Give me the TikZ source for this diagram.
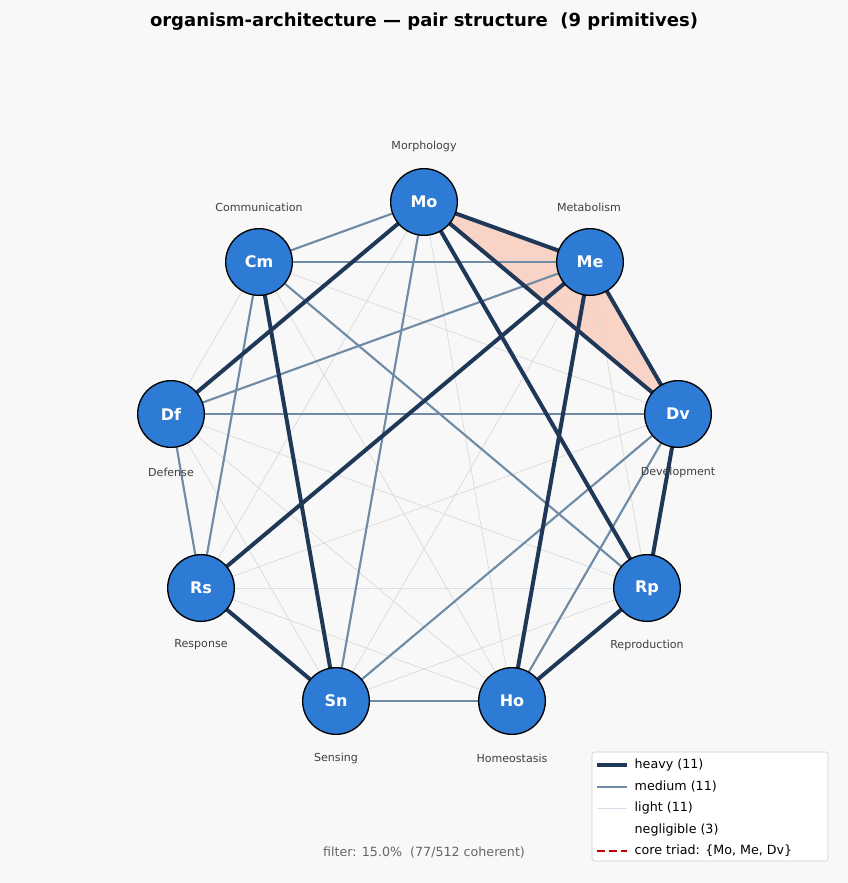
\documentclass[tikz,border=0pt]{standalone}
\usepackage{fontspec}
\setmainfont{DejaVu Sans}
\begin{document}
\begin{tikzpicture}[x=0.75pt,y=-0.75pt,
  nd/.style={circle,draw=black,line width=1pt,fill=nodeblue,minimum size=50pt,inner sep=0pt,text=white,font=\bfseries\fontsize{12}{14}\selectfont},
  lb/.style={font=\fontsize{8.3}{10}\selectfont,text=black!75},
  heavy/.style={draw=heavyc,line width=3pt},
  medium/.style={draw=medc,line width=1.6pt},
  light/.style={draw=black!15,line width=0.5pt}]
\definecolor{nodeblue}{HTML}{2E7BD6}
\definecolor{heavyc}{HTML}{1F3858}
\definecolor{medc}{HTML}{6F8BA6}
\definecolor{lightc}{HTML}{D5E0EA}
\definecolor{bg}{HTML}{F8F8F8}
\fill[bg] (0,0) rectangle (848,883);
\useasboundingbox (0,0) rectangle (848,883);
\coordinate (Mo) at (424,202); \coordinate (Me) at (590,262); \coordinate (Dv) at (678,414);
\coordinate (Rp) at (647,588); \coordinate (Ho) at (512,701); \coordinate (Sn) at (336,701);
\coordinate (Rs) at (201,588); \coordinate (Df) at (171,414); \coordinate (Cm) at (259,262);
\fill[red!50!orange,fill opacity=0.2] (Mo)--(Me)--(Dv)--cycle;
\foreach \a/\b in {Mo/Rs,Mo/Ho,Me/Rp,Me/Sn,Dv/Cm,Dv/Rs,Rp/Sn,Rp/Df,Ho/Rs,Ho/Df,Ho/Cm,Sn/Df,Df/Cm}
  \draw[light] (\a)--(\b);
\draw[draw=lightc,line width=0.6pt] (Rp)--(Rs);
\foreach \a/\b in {Mo/Cm,Mo/Sn,Cm/Me,Cm/Rs,Cm/Rp,Me/Df,Df/Dv,Df/Rs,Dv/Sn,Dv/Ho,Sn/Ho}
  \draw[medium] (\a)--(\b);
\foreach \a/\b in {Mo/Me,Me/Dv,Mo/Dv,Mo/Df,Mo/Rp,Me/Rs,Me/Ho,Dv/Rp,Rp/Ho,Cm/Sn,Rs/Sn}
  \draw[heavy] (\a)--(\b);
\foreach \n in {Mo,Me,Dv,Rp,Ho,Sn,Rs,Df,Cm} \node[nd] (n\n) at (\n) {\n};
\node[lb] (lMo) at (424,146) {Morphology};
\node[lb] (lMe) at (589,207) {Metabolism};
\node[lb] (lCm) at (259,207) {Communication};
\node[lb] (lDf) at (171,472) {Defense};
\node[lb] (lDv) at (678,472) {Development};
\node[lb] (lRs) at (201,645) {Response};
\node[lb] (lRp) at (647,645) {Reproduction};
\node[lb] (lSn) at (336,758) {Sensing};
\node[lb] (lHo) at (512,758) {Homeostasis};
\node[font=\bfseries\fontsize{13.5}{16}\selectfont] (title) at (424,22) {organism-architecture — pair structure\ \ (9 primitives)};
\node[font=\fontsize{9.5}{11}\selectfont,text=black!60] (filt) at (424,853) {filter: 15.0\%\ \ (77/512 coherent)};
\draw[black!20,fill=white,rounded corners=2pt] (592,752) rectangle (828,861);
\begin{scope}[font=\fontsize{9.5}{11}\selectfont]
\draw[heavy] (597,765)--(627,765); \node[anchor=west] (g1) at (630,765) {heavy (11)};
\draw[medium] (597,787)--(627,787); \node[anchor=west] (g2) at (630,787) {medium (11)};
\draw[draw=lightc,line width=0.6pt] (597,808)--(627,808); \node[anchor=west] (g3) at (630,808) {light (11)};
\node[anchor=west] (g4) at (630,830) {negligible (3)};
\draw[red!75!black,line width=1.2pt,dash pattern=on 6pt off 3pt] (597,851)--(627,851); \node[anchor=west] (g5) at (630,851) {core triad: \{Mo, Me, Dv\}};
\end{scope}
\end{tikzpicture}
\end{document}
